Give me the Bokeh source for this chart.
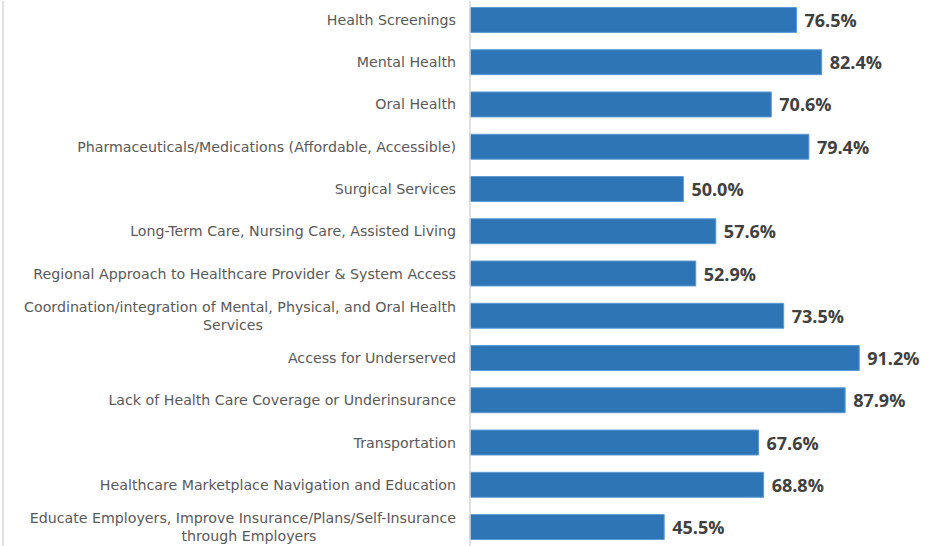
from bokeh.plotting import figure
from bokeh.models import Range1d, Span
from bokeh.core.properties import value
from bokeh.embed import file_html
from bokeh.resources import INLINE

# Survey items (top to bottom) and the share of respondents rating each a need
categories = [
    "Health Screenings",
    "Mental Health",
    "Oral Health",
    "Pharmaceuticals/Medications (Affordable, Accessible)",
    "Surgical Services",
    "Long-Term Care, Nursing Care, Assisted Living",
    "Regional Approach to Healthcare Provider & System Access",
    "Coordination/integration of Mental, Physical, and Oral Health\nServices",
    "Access for Underserved",
    "Lack of Health Care Coverage or Underinsurance",
    "Transportation",
    "Healthcare Marketplace Navigation and Education",
    "Educate Employers, Improve Insurance/Plans/Self-Insurance\nthrough Employers",
]
percentages = [76.5, 82.4, 70.6, 79.4, 50.0, 57.6, 52.9, 73.5, 91.2, 87.9, 67.6, 68.8, 45.5]

positions = list(range(len(categories)))
value_labels = [f"{v:.1f}%" for v in percentages]

W, H = 929, 546
AXIS_PX = 469.5          # pixel column of the category axis
PX_PER_UNIT = 4.268      # pixels per percentage point
LABEL_FONT = "DejaVu Sans"
VALUE_FONT = "Open Sans"
LABEL_COLOR = "#595959"
GAP = 14                 # space between category labels and the axis

x_start = -AXIS_PX / PX_PER_UNIT
x_end = (W - AXIS_PX) / PX_PER_UNIT

p = figure(
    width=W, height=H,
    x_range=Range1d(x_start, x_end),
    y_range=Range1d(12.46, -0.46),
    output_backend="svg", toolbar_location=None,
    min_border_left=0, min_border_right=0, min_border_top=0, min_border_bottom=0,
)
p.outline_line_color = None
p.xaxis.visible = False
p.yaxis.visible = False
p.xgrid.visible = False
p.ygrid.visible = False

p.hbar(y=positions, right=percentages, left=0, height=0.59,
       fill_color="#2E75B6", line_color="#5B9BD5", line_width=1)

# vertical category axis and the thin left border of the chart area
p.add_layout(Span(location=0, dimension="height", line_color="#D9D9D9", line_width=1.5))
p.add_layout(Span(location=x_start + 2.5 / PX_PER_UNIT, dimension="height",
                  line_color="#D9D9D9", line_width=1.5))

# value labels at the bar ends
p.text(x=percentages, y=positions, text=value_labels,
       x_offset=8, text_baseline="middle", text_align="left",
       text_font=value(VALUE_FONT), text_font_style="bold",
       text_font_size="18px", text_color="#404040")

# category labels: one-line labels right-aligned against the axis,
# two-line labels with the second line centred under the first
single_y, single_t = [], []
first_y, first_t, second_y, second_t, second_dx = [], [], [], [], []
center_offsets = {7: -237, 12: -221}
for i, c in zip(positions, categories):
    lines = c.split("\n")
    if len(lines) == 1:
        single_y.append(i)
        single_t.append(c)
    else:
        first_y.append(i)
        first_t.append(lines[0])
        second_y.append(i)
        second_t.append(lines[1])
        second_dx.append(center_offsets[i])

common = dict(text_font=value(LABEL_FONT), text_font_size="14.2px",
              text_color=LABEL_COLOR, text_baseline="middle")
p.text(x=[0] * len(single_y), y=single_y, text=single_t,
       x_offset=-GAP, text_align="right", **common)
p.text(x=[0] * len(first_y), y=first_y, text=first_t,
       x_offset=-GAP, y_offset=-9, text_align="right", **common)
p.text(x=[0] * len(second_y), y=second_y, text=second_t,
       x_offset=second_dx, y_offset=9, text_align="center", **common)

open("out.html", "w").write(file_html(p, INLINE))
